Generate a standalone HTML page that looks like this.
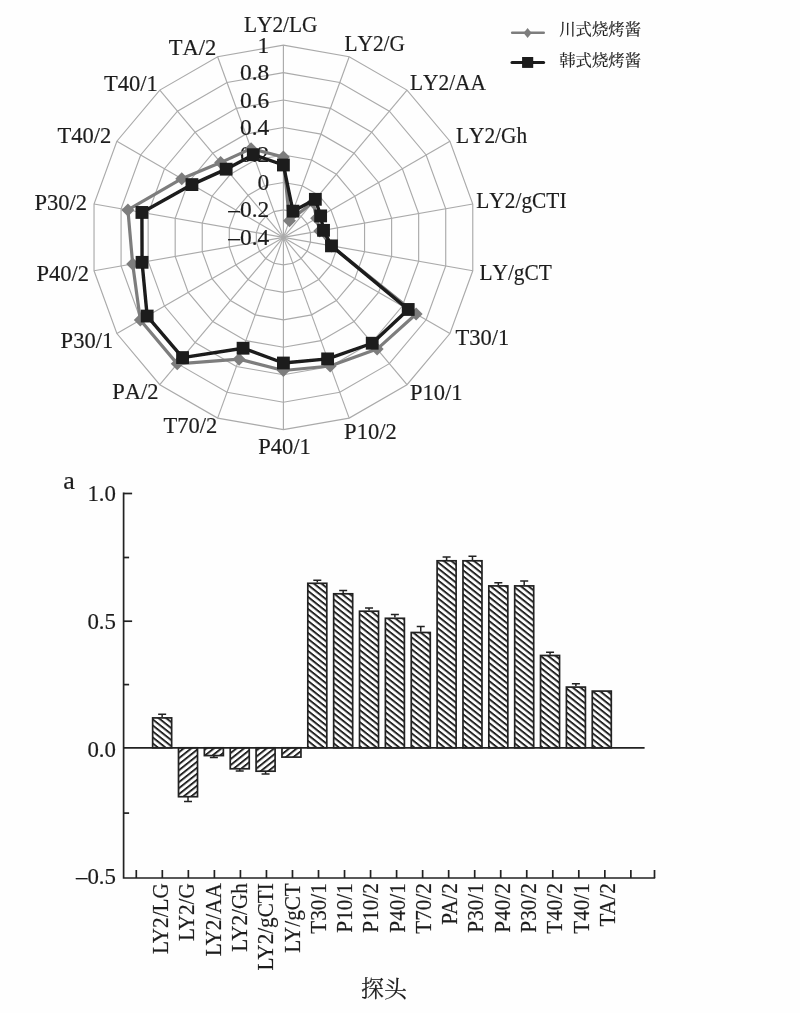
<!DOCTYPE html>
<html lang="zh"><head><meta charset="utf-8"><title>figure</title>
<style>html,body{margin:0;padding:0;background:#fff}svg{display:block}text{font-family:"Liberation Serif","Noto Serif CJK SC",serif;fill:#1c1c1c;font-kerning:none;stroke:#1c1c1c;stroke-width:0.18px}.cj{font-family:"Liberation Serif","Noto Serif CJK SC",serif}</style></head><body>
<svg width="800" height="1013" viewBox="0 0 800 1013">
<defs><pattern id="hp" patternUnits="userSpaceOnUse" width="20" height="6" patternTransform="translate(152.5 748) skewY(38.5)"><rect x="0" y="0" width="20" height="2.45" fill="#222"/></pattern><pattern id="hn" patternUnits="userSpaceOnUse" width="20" height="6" patternTransform="translate(152.5 748) skewY(-38.5)"><rect x="0" y="0" width="20" height="2.45" fill="#222"/></pattern><filter id="soft" x="0" y="0" width="100%" height="100%" filterUnits="userSpaceOnUse"><feGaussianBlur stdDeviation="0.4"/></filter></defs>
<rect width="800" height="1013" fill="#fefefe"/>
<g filter="url(#soft)">
<g fill="none" stroke="#aaa" stroke-width="1.15">
<polygon points="283.40,209.93 292.80,211.59 301.06,216.36 307.19,223.66 310.45,232.63 310.45,242.17 307.19,251.13 301.06,258.44 292.80,263.21 283.40,264.87 274.00,263.21 265.74,258.44 259.61,251.14 256.35,242.17 256.35,232.63 259.61,223.66 265.74,216.36 274.00,211.59"/>
<polygon points="283.40,182.46 302.19,185.77 318.71,195.31 330.98,209.93 337.51,227.86 337.51,246.94 330.98,264.87 318.71,279.49 302.19,289.03 283.40,292.34 264.61,289.03 248.09,279.49 235.82,264.87 229.29,246.94 229.29,227.86 235.82,209.93 248.09,195.31 264.61,185.77"/>
<polygon points="283.40,154.99 311.59,159.96 336.37,174.27 354.77,196.19 364.56,223.09 364.56,251.71 354.77,278.61 336.37,300.53 311.59,314.84 283.40,319.81 255.21,314.84 230.43,300.53 212.03,278.61 202.24,251.71 202.24,223.09 212.03,196.19 230.43,174.27 255.21,159.96"/>
<polygon points="283.40,127.52 320.98,134.15 354.03,153.23 378.56,182.46 391.61,218.32 391.61,256.48 378.56,292.34 354.03,321.57 320.98,340.65 283.40,347.28 245.82,340.65 212.77,321.57 188.24,292.34 175.19,256.48 175.19,218.32 188.24,182.46 212.77,153.23 245.82,134.15"/>
<polygon points="283.40,100.05 330.38,108.33 371.69,132.18 402.35,168.72 418.66,213.55 418.66,261.25 402.35,306.07 371.69,342.62 330.38,366.47 283.40,374.75 236.42,366.47 195.11,342.62 164.45,306.08 148.14,261.25 148.14,213.55 164.45,168.72 195.11,132.18 236.42,108.33"/>
<polygon points="283.40,72.58 339.77,82.52 389.34,111.14 426.14,154.99 445.72,208.78 445.72,266.02 426.14,319.81 389.34,363.66 339.77,392.28 283.40,402.22 227.03,392.28 177.46,363.66 140.66,319.81 121.08,266.02 121.08,208.78 140.66,154.99 177.46,111.14 227.03,82.52"/>
<polygon points="283.40,45.11 349.17,56.71 407.00,90.10 449.93,141.25 472.77,204.01 472.77,270.79 449.93,333.54 407.00,384.70 349.17,418.09 283.40,429.69 217.63,418.09 159.80,384.70 116.87,333.55 94.03,270.79 94.03,204.01 116.87,141.25 159.80,90.10 217.63,56.71"/>
<line x1="283.4" y1="237.4" x2="283.40" y2="45.11"/>
<line x1="283.4" y1="237.4" x2="349.17" y2="56.71"/>
<line x1="283.4" y1="237.4" x2="407.00" y2="90.10"/>
<line x1="283.4" y1="237.4" x2="449.93" y2="141.25"/>
<line x1="283.4" y1="237.4" x2="472.77" y2="204.01"/>
<line x1="283.4" y1="237.4" x2="472.77" y2="270.79"/>
<line x1="283.4" y1="237.4" x2="449.93" y2="333.54"/>
<line x1="283.4" y1="237.4" x2="407.00" y2="384.70"/>
<line x1="283.4" y1="237.4" x2="349.17" y2="418.09"/>
<line x1="283.4" y1="237.4" x2="283.40" y2="429.69"/>
<line x1="283.4" y1="237.4" x2="217.63" y2="418.09"/>
<line x1="283.4" y1="237.4" x2="159.80" y2="384.70"/>
<line x1="283.4" y1="237.4" x2="116.87" y2="333.55"/>
<line x1="283.4" y1="237.4" x2="94.03" y2="270.79"/>
<line x1="283.4" y1="237.4" x2="94.03" y2="204.01"/>
<line x1="283.4" y1="237.4" x2="116.87" y2="141.25"/>
<line x1="283.4" y1="237.4" x2="159.80" y2="90.10"/>
<line x1="283.4" y1="237.4" x2="217.63" y2="56.71"/>
</g>
<text transform="translate(269.30 244.90) scale(1.06 1)" font-size="22.1" text-anchor="end">–0.4</text>
<text transform="translate(269.30 217.43) scale(1.06 1)" font-size="22.1" text-anchor="end">–0.2</text>
<text transform="translate(269.30 189.96) scale(1.06 1)" font-size="22.1" text-anchor="end">0</text>
<text transform="translate(269.30 162.49) scale(1.06 1)" font-size="22.1" text-anchor="end">0.2</text>
<text transform="translate(269.30 135.02) scale(1.06 1)" font-size="22.1" text-anchor="end">0.4</text>
<text transform="translate(269.30 107.55) scale(1.06 1)" font-size="22.1" text-anchor="end">0.6</text>
<text transform="translate(269.30 80.08) scale(1.06 1)" font-size="22.1" text-anchor="end">0.8</text>
<text transform="translate(269.30 52.61) scale(1.06 1)" font-size="22.1" text-anchor="end">1</text>
<polygon fill="none" stroke="#7d7d7d" stroke-width="3.2" stroke-linejoin="round" points="283.40,157.00 289.44,220.81 312.99,202.13 316.70,218.17 319.75,230.99 331.47,245.88 416.10,314.01 377.11,349.08 330.20,366.00 283.40,370.50 239.09,359.15 177.28,363.87 140.30,320.02 132.67,263.98 127.91,209.98 181.78,178.73 220.63,162.60 251.09,148.63"/>
<polygon fill="#7d7d7d" points="276.90,157.00 283.40,150.50 289.90,157.00 283.40,163.50"/>
<polygon fill="#7d7d7d" points="282.94,220.81 289.44,214.31 295.94,220.81 289.44,227.31"/>
<polygon fill="#7d7d7d" points="306.49,202.13 312.99,195.63 319.49,202.13 312.99,208.63"/>
<polygon fill="#7d7d7d" points="310.20,218.17 316.70,211.67 323.20,218.17 316.70,224.67"/>
<polygon fill="#7d7d7d" points="313.25,230.99 319.75,224.49 326.25,230.99 319.75,237.49"/>
<polygon fill="#7d7d7d" points="324.97,245.88 331.47,239.38 337.97,245.88 331.47,252.38"/>
<polygon fill="#7d7d7d" points="409.60,314.01 416.10,307.51 422.60,314.01 416.10,320.51"/>
<polygon fill="#7d7d7d" points="370.61,349.08 377.11,342.58 383.61,349.08 377.11,355.58"/>
<polygon fill="#7d7d7d" points="323.70,366.00 330.20,359.50 336.70,366.00 330.20,372.50"/>
<polygon fill="#7d7d7d" points="276.90,370.50 283.40,364.00 289.90,370.50 283.40,377.00"/>
<polygon fill="#7d7d7d" points="232.59,359.15 239.09,352.65 245.59,359.15 239.09,365.65"/>
<polygon fill="#7d7d7d" points="170.78,363.87 177.28,357.37 183.78,363.87 177.28,370.37"/>
<polygon fill="#7d7d7d" points="133.80,320.02 140.30,313.52 146.80,320.02 140.30,326.52"/>
<polygon fill="#7d7d7d" points="126.17,263.98 132.67,257.48 139.17,263.98 132.67,270.48"/>
<polygon fill="#7d7d7d" points="121.41,209.98 127.91,203.48 134.41,209.98 127.91,216.48"/>
<polygon fill="#7d7d7d" points="175.28,178.73 181.78,172.23 188.28,178.73 181.78,185.23"/>
<polygon fill="#7d7d7d" points="214.13,162.60 220.63,156.10 227.13,162.60 220.63,169.10"/>
<polygon fill="#7d7d7d" points="244.59,148.63 251.09,142.13 257.59,148.63 251.09,155.13"/>
<polygon fill="none" stroke="#1a1a1a" stroke-width="3.4" stroke-linejoin="round" points="283.40,165.00 292.96,211.14 315.35,199.32 320.64,215.90 323.52,230.33 331.47,245.88 408.23,309.47 372.21,343.24 327.62,358.89 283.40,363.00 243.07,348.21 182.57,357.56 147.17,316.05 142.06,262.32 141.92,212.45 191.94,184.60 226.15,169.17 253.30,154.70"/>
<rect fill="#1a1a1a" x="277.00" y="158.60" width="12.8" height="12.8"/>
<rect fill="#1a1a1a" x="286.56" y="204.74" width="12.8" height="12.8"/>
<rect fill="#1a1a1a" x="308.95" y="192.92" width="12.8" height="12.8"/>
<rect fill="#1a1a1a" x="314.24" y="209.50" width="12.8" height="12.8"/>
<rect fill="#1a1a1a" x="317.12" y="223.93" width="12.8" height="12.8"/>
<rect fill="#1a1a1a" x="325.07" y="239.48" width="12.8" height="12.8"/>
<rect fill="#1a1a1a" x="401.83" y="303.07" width="12.8" height="12.8"/>
<rect fill="#1a1a1a" x="365.81" y="336.84" width="12.8" height="12.8"/>
<rect fill="#1a1a1a" x="321.22" y="352.49" width="12.8" height="12.8"/>
<rect fill="#1a1a1a" x="277.00" y="356.60" width="12.8" height="12.8"/>
<rect fill="#1a1a1a" x="236.67" y="341.81" width="12.8" height="12.8"/>
<rect fill="#1a1a1a" x="176.17" y="351.16" width="12.8" height="12.8"/>
<rect fill="#1a1a1a" x="140.77" y="309.65" width="12.8" height="12.8"/>
<rect fill="#1a1a1a" x="135.66" y="255.92" width="12.8" height="12.8"/>
<rect fill="#1a1a1a" x="135.52" y="206.05" width="12.8" height="12.8"/>
<rect fill="#1a1a1a" x="185.54" y="178.20" width="12.8" height="12.8"/>
<rect fill="#1a1a1a" x="219.75" y="162.77" width="12.8" height="12.8"/>
<rect fill="#1a1a1a" x="246.90" y="148.30" width="12.8" height="12.8"/>
<text transform="translate(243.90 31.85) scale(0.93 1)" font-size="23" text-anchor="start">LY2/LG</text>
<text transform="translate(344.40 51.35) scale(0.93 1)" font-size="23" text-anchor="start">LY2/G</text>
<text transform="translate(410.00 89.50) scale(0.93 1)" font-size="23" text-anchor="start">LY2/AA</text>
<text transform="translate(455.90 142.90) scale(0.93 1)" font-size="23" text-anchor="start">LY2/Gh</text>
<text transform="translate(476.30 207.60) scale(0.93 1)" font-size="23" text-anchor="start">LY2/gCTI</text>
<text transform="translate(479.40 279.50) scale(0.93 1)" font-size="23" text-anchor="start">LY/gCT</text>
<text transform="translate(455.40 345.10) scale(0.98 1)" font-size="23" text-anchor="start">T30/1</text>
<text transform="translate(410.00 399.80) scale(0.98 1)" font-size="23" text-anchor="start">P10/1</text>
<text transform="translate(344.10 438.85) scale(0.98 1)" font-size="23" text-anchor="start">P10/2</text>
<text transform="translate(258.20 454.10) scale(0.98 1)" font-size="23" text-anchor="start">P40/1</text>
<text transform="translate(163.40 433.30) scale(0.98 1)" font-size="23" text-anchor="start">T70/2</text>
<text transform="translate(112.20 399.30) scale(0.98 1)" font-size="23" text-anchor="start">PA/2</text>
<text transform="translate(60.60 348.10) scale(0.98 1)" font-size="23" text-anchor="start">P30/1</text>
<text transform="translate(36.40 280.80) scale(0.98 1)" font-size="23" text-anchor="start">P40/2</text>
<text transform="translate(34.40 209.80) scale(0.98 1)" font-size="23" text-anchor="start">P30/2</text>
<text transform="translate(57.50 142.60) scale(0.98 1)" font-size="23" text-anchor="start">T40/2</text>
<text transform="translate(104.00 91.10) scale(0.98 1)" font-size="23" text-anchor="start">T40/1</text>
<text transform="translate(168.80 55.30) scale(0.98 1)" font-size="23" text-anchor="start">TA/2</text>
<line x1="512.2" y1="32.8" x2="543.7" y2="32.8" stroke="#7d7d7d" stroke-width="2.6" stroke-linecap="round"/>
<polygon fill="#7d7d7d" points="523.6,33 527.6,28 531.6,33 527.6,38"/>
<line x1="512" y1="62.4" x2="543.6" y2="62.4" stroke="#1a1a1a" stroke-width="3" stroke-linecap="round"/>
<rect fill="#1a1a1a" x="522.1" y="57" width="11.1" height="10.9"/>
<text class="cj" x="559.2" y="35.2" font-size="16.4">川式烧烤酱</text>
<text class="cj" x="559.2" y="65.5" font-size="16.4">韩式烧烤酱</text>
<text transform="translate(63.20 488.60) scale(1.0 1)" font-size="26" text-anchor="start">a</text>
<path d="M162.15 717.1 V714.2 M158.15 714.2 H166.15" stroke="#222" stroke-width="1.5" fill="none"/>
<rect x="152.65" y="717.90" width="19" height="29.90" fill="url(#hp)" stroke="#222" stroke-width="1.7"/>
<path d="M188.01 797 V801.5 M184.01 801.5 H192.01" stroke="#222" stroke-width="1.5" fill="none"/>
<rect x="178.51" y="747.80" width="19" height="48.90" fill="url(#hn)" stroke="#222" stroke-width="1.7"/>
<path d="M213.87 755.9 V757.6 M209.87 757.6 H217.87" stroke="#222" stroke-width="1.5" fill="none"/>
<rect x="204.37" y="747.80" width="19" height="7.80" fill="url(#hn)" stroke="#222" stroke-width="1.7"/>
<path d="M239.73 769.1 V771 M235.73 771 H243.73" stroke="#222" stroke-width="1.5" fill="none"/>
<rect x="230.23" y="747.80" width="19" height="21.00" fill="url(#hn)" stroke="#222" stroke-width="1.7"/>
<path d="M265.59 771.5 V774 M261.59 774 H269.59" stroke="#222" stroke-width="1.5" fill="none"/>
<rect x="256.09" y="747.80" width="19" height="23.40" fill="url(#hn)" stroke="#222" stroke-width="1.7"/>
<rect x="281.95" y="747.80" width="19" height="9.30" fill="url(#hn)" stroke="#222" stroke-width="1.7"/>
<path d="M317.31 582.5 V580.2 M313.31 580.2 H321.31" stroke="#222" stroke-width="1.5" fill="none"/>
<rect x="307.81" y="583.30" width="19" height="164.50" fill="url(#hp)" stroke="#222" stroke-width="1.7"/>
<path d="M343.17 593 V590.6 M339.17 590.6 H347.17" stroke="#222" stroke-width="1.5" fill="none"/>
<rect x="333.67" y="593.80" width="19" height="154.00" fill="url(#hp)" stroke="#222" stroke-width="1.7"/>
<path d="M369.03 610.4 V607.9 M365.03 607.9 H373.03" stroke="#222" stroke-width="1.5" fill="none"/>
<rect x="359.53" y="611.20" width="19" height="136.60" fill="url(#hp)" stroke="#222" stroke-width="1.7"/>
<path d="M394.89 617.5 V614.6 M390.89 614.6 H398.89" stroke="#222" stroke-width="1.5" fill="none"/>
<rect x="385.39" y="618.30" width="19" height="129.50" fill="url(#hp)" stroke="#222" stroke-width="1.7"/>
<path d="M420.75 631.7 V626.5 M416.75 626.5 H424.75" stroke="#222" stroke-width="1.5" fill="none"/>
<rect x="411.25" y="632.50" width="19" height="115.30" fill="url(#hp)" stroke="#222" stroke-width="1.7"/>
<path d="M446.61 560 V557.1 M442.61 557.1 H450.61" stroke="#222" stroke-width="1.5" fill="none"/>
<rect x="437.11" y="560.80" width="19" height="187.00" fill="url(#hp)" stroke="#222" stroke-width="1.7"/>
<path d="M472.47 560 V556.2 M468.47 556.2 H476.47" stroke="#222" stroke-width="1.5" fill="none"/>
<rect x="462.97" y="560.80" width="19" height="187.00" fill="url(#hp)" stroke="#222" stroke-width="1.7"/>
<path d="M498.33 585.1 V582.8 M494.33 582.8 H502.33" stroke="#222" stroke-width="1.5" fill="none"/>
<rect x="488.83" y="585.90" width="19" height="161.90" fill="url(#hp)" stroke="#222" stroke-width="1.7"/>
<path d="M524.19 585.1 V580.9 M520.19 580.9 H528.19" stroke="#222" stroke-width="1.5" fill="none"/>
<rect x="514.69" y="585.90" width="19" height="161.90" fill="url(#hp)" stroke="#222" stroke-width="1.7"/>
<path d="M550.05 654.7 V652.2 M546.05 652.2 H554.05" stroke="#222" stroke-width="1.5" fill="none"/>
<rect x="540.55" y="655.50" width="19" height="92.30" fill="url(#hp)" stroke="#222" stroke-width="1.7"/>
<path d="M575.91 686.3 V683.8 M571.91 683.8 H579.91" stroke="#222" stroke-width="1.5" fill="none"/>
<rect x="566.41" y="687.10" width="19" height="60.70" fill="url(#hp)" stroke="#222" stroke-width="1.7"/>
<rect x="592.27" y="691.10" width="19" height="56.70" fill="url(#hp)" stroke="#222" stroke-width="1.7"/>
<g stroke="#222" stroke-width="1.7" fill="none">
<path d="M123.6 492.6 V878 H655.2"/>
<path d="M123.6 747.8 H644.6"/>
<path d="M123.6 493.5 h8.5"/>
<path d="M123.6 621.2 h8.5"/>
<path d="M123.6 557.5 h5.5"/>
<path d="M123.6 684.6 h5.5"/>
<path d="M123.6 813.1 h5.5"/>
<path d="M136.30 878 v-8"/>
<path d="M162.33 878 v-8"/>
<path d="M188.36 878 v-8"/>
<path d="M214.39 878 v-8"/>
<path d="M240.42 878 v-8"/>
<path d="M266.45 878 v-8"/>
<path d="M292.48 878 v-8"/>
<path d="M318.51 878 v-8"/>
<path d="M344.54 878 v-8"/>
<path d="M370.57 878 v-8"/>
<path d="M396.60 878 v-8"/>
<path d="M422.63 878 v-8"/>
<path d="M448.66 878 v-8"/>
<path d="M474.69 878 v-8"/>
<path d="M500.72 878 v-8"/>
<path d="M526.75 878 v-8"/>
<path d="M552.78 878 v-8"/>
<path d="M578.81 878 v-8"/>
<path d="M604.84 878 v-8"/>
<path d="M630.87 878 v-8"/>
<path d="M654.5 878 v-8"/>
</g>
<text transform="translate(116.00 501.20) scale(1.03 1)" font-size="22.2" text-anchor="end">1.0</text>
<text transform="translate(116.00 629.00) scale(1.03 1)" font-size="22.2" text-anchor="end">0.5</text>
<text transform="translate(116.00 756.60) scale(1.03 1)" font-size="22.2" text-anchor="end">0.0</text>
<text transform="translate(116.00 883.80) scale(1.03 1)" font-size="22.2" text-anchor="end">–0.5</text>
<text transform="translate(168.20 883.20) rotate(-90) scale(0.925 1)" font-size="22.9" text-anchor="end" style="font-kerning:normal" stroke="#1c1c1c" stroke-width="0.25">LY2/LG</text>
<text transform="translate(194.47 883.20) rotate(-90) scale(0.925 1)" font-size="22.9" text-anchor="end" style="font-kerning:normal" stroke="#1c1c1c" stroke-width="0.25">LY2/G</text>
<text transform="translate(220.74 883.20) rotate(-90) scale(0.925 1)" font-size="22.9" text-anchor="end" style="font-kerning:normal" stroke="#1c1c1c" stroke-width="0.25">LY2/AA</text>
<text transform="translate(247.01 883.20) rotate(-90) scale(0.925 1)" font-size="22.9" text-anchor="end" style="font-kerning:normal" stroke="#1c1c1c" stroke-width="0.25">LY2/Gh</text>
<text transform="translate(273.28 883.20) rotate(-90) scale(0.925 1)" font-size="22.9" text-anchor="end" style="font-kerning:normal" stroke="#1c1c1c" stroke-width="0.25">LY2/gCTI</text>
<text transform="translate(299.55 883.20) rotate(-90) scale(0.925 1)" font-size="22.9" text-anchor="end" style="font-kerning:normal" stroke="#1c1c1c" stroke-width="0.25">LY/gCT</text>
<text transform="translate(325.82 883.20) rotate(-90) scale(0.925 1)" font-size="22.9" text-anchor="end" style="font-kerning:normal" stroke="#1c1c1c" stroke-width="0.25">T30/1</text>
<text transform="translate(352.09 883.20) rotate(-90) scale(0.925 1)" font-size="22.9" text-anchor="end" style="font-kerning:normal" stroke="#1c1c1c" stroke-width="0.25">P10/1</text>
<text transform="translate(378.36 883.20) rotate(-90) scale(0.925 1)" font-size="22.9" text-anchor="end" style="font-kerning:normal" stroke="#1c1c1c" stroke-width="0.25">P10/2</text>
<text transform="translate(404.63 883.20) rotate(-90) scale(0.925 1)" font-size="22.9" text-anchor="end" style="font-kerning:normal" stroke="#1c1c1c" stroke-width="0.25">P40/1</text>
<text transform="translate(430.90 883.20) rotate(-90) scale(0.925 1)" font-size="22.9" text-anchor="end" style="font-kerning:normal" stroke="#1c1c1c" stroke-width="0.25">T70/2</text>
<text transform="translate(457.17 883.20) rotate(-90) scale(0.925 1)" font-size="22.9" text-anchor="end" style="font-kerning:normal" stroke="#1c1c1c" stroke-width="0.25">PA/2</text>
<text transform="translate(483.44 883.20) rotate(-90) scale(0.925 1)" font-size="22.9" text-anchor="end" style="font-kerning:normal" stroke="#1c1c1c" stroke-width="0.25">P30/1</text>
<text transform="translate(509.71 883.20) rotate(-90) scale(0.925 1)" font-size="22.9" text-anchor="end" style="font-kerning:normal" stroke="#1c1c1c" stroke-width="0.25">P40/2</text>
<text transform="translate(535.98 883.20) rotate(-90) scale(0.925 1)" font-size="22.9" text-anchor="end" style="font-kerning:normal" stroke="#1c1c1c" stroke-width="0.25">P30/2</text>
<text transform="translate(562.25 883.20) rotate(-90) scale(0.925 1)" font-size="22.9" text-anchor="end" style="font-kerning:normal" stroke="#1c1c1c" stroke-width="0.25">T40/2</text>
<text transform="translate(588.52 883.20) rotate(-90) scale(0.925 1)" font-size="22.9" text-anchor="end" style="font-kerning:normal" stroke="#1c1c1c" stroke-width="0.25">T40/1</text>
<text transform="translate(614.79 883.20) rotate(-90) scale(0.925 1)" font-size="22.9" text-anchor="end" style="font-kerning:normal" stroke="#1c1c1c" stroke-width="0.25">T<tspan dx="-1.6">A</tspan>/2</text>
<text class="cj" x="361" y="996.6" font-size="23">探头</text>
</g>
</svg></body></html>
